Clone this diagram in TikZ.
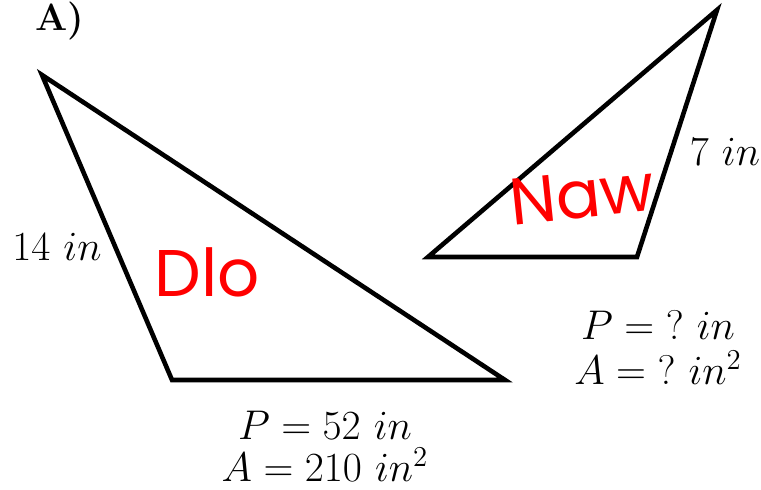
\documentclass[tikz,border=0pt]{standalone}
\usepackage{fontspec}
\newfontfamily\handfont{Poppins}
\usetikzlibrary{positioning}
\tikzset{
  every picture/.style={line width=2.3pt},
  side/.style={draw=black, line join=miter},
  lbl/.style={font=\fontsize{21.5}{25}\selectfont, inner sep=0pt},
  hand/.style={font=\handfont\fontsize{33}{38}\selectfont, text=red, inner sep=0pt},
}
\begin{document}
\begin{tikzpicture}[x=0.5pt, y=-0.5pt]
  \useasboundingbox (0,0) rectangle (761,490);
  % old triangle
  \coordinate (oa) at (42,75);
  \coordinate (ob) at (172,380);
  \coordinate (oc) at (505,380);
  \draw[side] (oa) -- (ob) -- (oc) -- cycle;
  % new triangle
  \coordinate (na) at (717,10);
  \coordinate (nb) at (428,257);
  \coordinate (nc) at (637,257);
  \draw[side] (na) -- (nb) -- (nc) -- cycle;
  % labels
  \node[lbl, font=\fontsize{19}{23}\selectfont\bfseries] (title) at (60,21) {A)};
  \node[lbl] (oside) at (57,247) {$14\ in$};
  \node[lbl] (nside) at (725,152) {$7\ in$};
  \node[lbl] (op) at (325,425) {$P = 52\ in$};
  \node[lbl] (oar) at (325,465) {$A = 210\ in^2$};
  \node[lbl] (np) at (658,325) {$P = {?}\ in$};
  \node[lbl] (nar) at (658,368) {$A = {?}\ in^2$};
  % handwriting
  \node[hand] (old) at (207,272) {Dlo};
  \node[hand, rotate=6] (new) at (582,195) {Naw};
\end{tikzpicture}
\end{document}
